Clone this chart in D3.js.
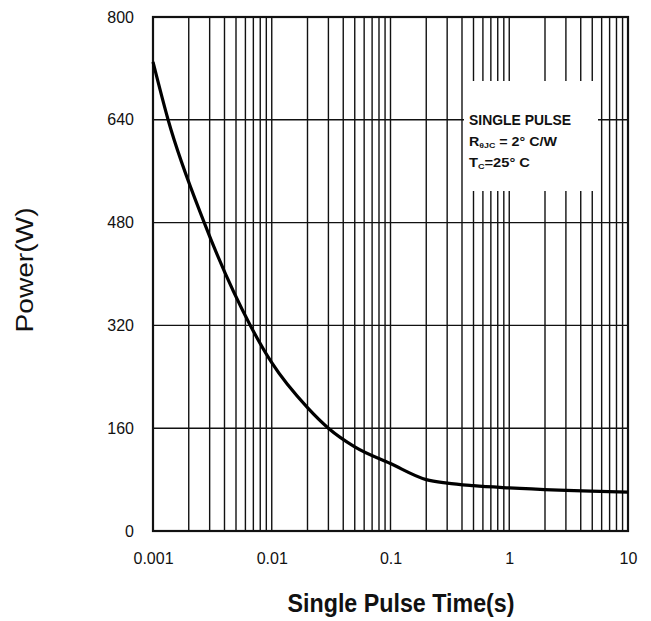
<!DOCTYPE html>
<meta charset="utf-8">
<style>
body { margin: 0; background: #fff; }
svg text { font-family: "Liberation Sans", Arial, sans-serif; fill: #111; }
.grid line { stroke: #111; stroke-width: 1.4; }
.axis path, .axis line { display: none; }
.axis text { font-size: 16px; }
</style>
<svg width="651" height="621"></svg>
<script src="https://cdn.jsdelivr.net/npm/d3@7"></script>
<script>

// values
var pulseTime = [0.001, 0.00134, 0.0027, 0.0066, 0.01, 0.02, 0.03, 0.05, 0.1, 0.2, 0.3, 0.5, 1, 10];
var powerW    = [730, 640, 480, 320, 262, 192, 160, 131, 105, 80, 74.5, 70.5, 67, 60.5];

var xTicks = [0.001, 0.01, 0.1, 1, 10],
    xTickLabels = ["0.001", "0.01", "0.1", "1", "10"],
    yTicks = [0, 160, 320, 480, 640, 800];

var svg = d3.select("svg"),
    margin = {top: 17, right: 23, bottom: 90, left: 153},
    width = +svg.attr("width") - margin.left - margin.right,
    height = +svg.attr("height") - margin.top - margin.bottom;

var x = d3.scaleLog().domain([0.001, 10]).range([0, width]),
    y = d3.scaleLinear().domain([0, 800]).range([height, 0]);

var g = svg.append("g")
    .attr("transform", "translate(" + margin.left + "," + margin.top + ")");

// minor + major vertical grid
var vLines = [];
[0.001, 0.01, 0.1, 1].forEach(function(d) {
  for (var k = 1; k < 10; k++) vLines.push(d * k);
});

g.append("g").attr("class", "grid")
  .selectAll("line").data(vLines).enter().append("line")
    .attr("x1", function(d) { return x(d); })
    .attr("x2", function(d) { return x(d); })
    .attr("y1", 0).attr("y2", height);

g.append("g").attr("class", "grid")
  .selectAll("line").data(yTicks.slice(1, -1)).enter().append("line")
    .attr("x1", 0).attr("x2", width)
    .attr("y1", function(d) { return y(d); })
    .attr("y2", function(d) { return y(d); });

// legend box hides the grid behind it
var box = g.append("g").attr("transform", "translate(" + (464 - margin.left) + "," + (81 - margin.top) + ")");
box.append("rect").attr("width", 134).attr("height", 110).attr("fill", "#fff");

box.append("text").attr("x", 5).attr("y", 44)
    .attr("font-weight", "bold").attr("font-size", 14)
    .attr("textLength", 102).attr("lengthAdjust", "spacingAndGlyphs")
    .text("SINGLE PULSE");

var t2 = box.append("text").attr("x", 5).attr("y", 65)
    .attr("font-weight", "bold").attr("font-size", 13)
    .attr("textLength", 88).attr("lengthAdjust", "spacingAndGlyphs");
t2.append("tspan").text("R");
t2.append("tspan").attr("font-size", 8).attr("dy", 2).text("\u03b8JC");
t2.append("tspan").attr("dy", -2).text(" = 2\u00b0 C/W");

var t3 = box.append("text").attr("x", 5).attr("y", 86)
    .attr("font-weight", "bold").attr("font-size", 13)
    .attr("textLength", 61).attr("lengthAdjust", "spacingAndGlyphs");
t3.append("tspan").text("T");
t3.append("tspan").attr("font-size", 8).attr("dy", 2).text("C");
t3.append("tspan").attr("dy", -2).text("=25\u00b0 C");

// frame
g.append("rect")
    .attr("width", width).attr("height", height)
    .attr("fill", "none").attr("stroke", "#111").attr("stroke-width", 2.2);

// curve
var line = d3.line()
    .x(function(d, i) { return x(pulseTime[i]); })
    .y(function(d) { return y(d); })
    .curve(d3.curveMonotoneX);

g.append("path")
    .datum(powerW)
    .attr("fill", "none")
    .attr("stroke", "#000")
    .attr("stroke-width", 3.2)
    .attr("d", line);

// axes (labels only)
g.append("g")
    .attr("class", "axis axis--x")
    .attr("transform", "translate(0," + height + ")")
    .call(d3.axisBottom(x).tickValues(xTicks).tickSize(0).tickPadding(22)
      .tickFormat(function(d, i) { return xTickLabels[i]; }));

g.append("g")
    .attr("class", "axis axis--y")
    .call(d3.axisLeft(y).tickValues(yTicks).tickSize(0).tickPadding(19));

// titles
svg.append("text")
    .attr("x", 401).attr("y", 612)
    .attr("text-anchor", "middle")
    .attr("font-weight", "bold").attr("font-size", 25)
    .attr("textLength", 227).attr("lengthAdjust", "spacingAndGlyphs")
    .text("Single Pulse Time(s)");

svg.append("text")
    .attr("transform", "translate(33,270) rotate(-90)")
    .attr("text-anchor", "middle")
    .attr("font-size", 23)
    .attr("textLength", 125).attr("lengthAdjust", "spacingAndGlyphs")
    .text("Power(W)");

</script>
